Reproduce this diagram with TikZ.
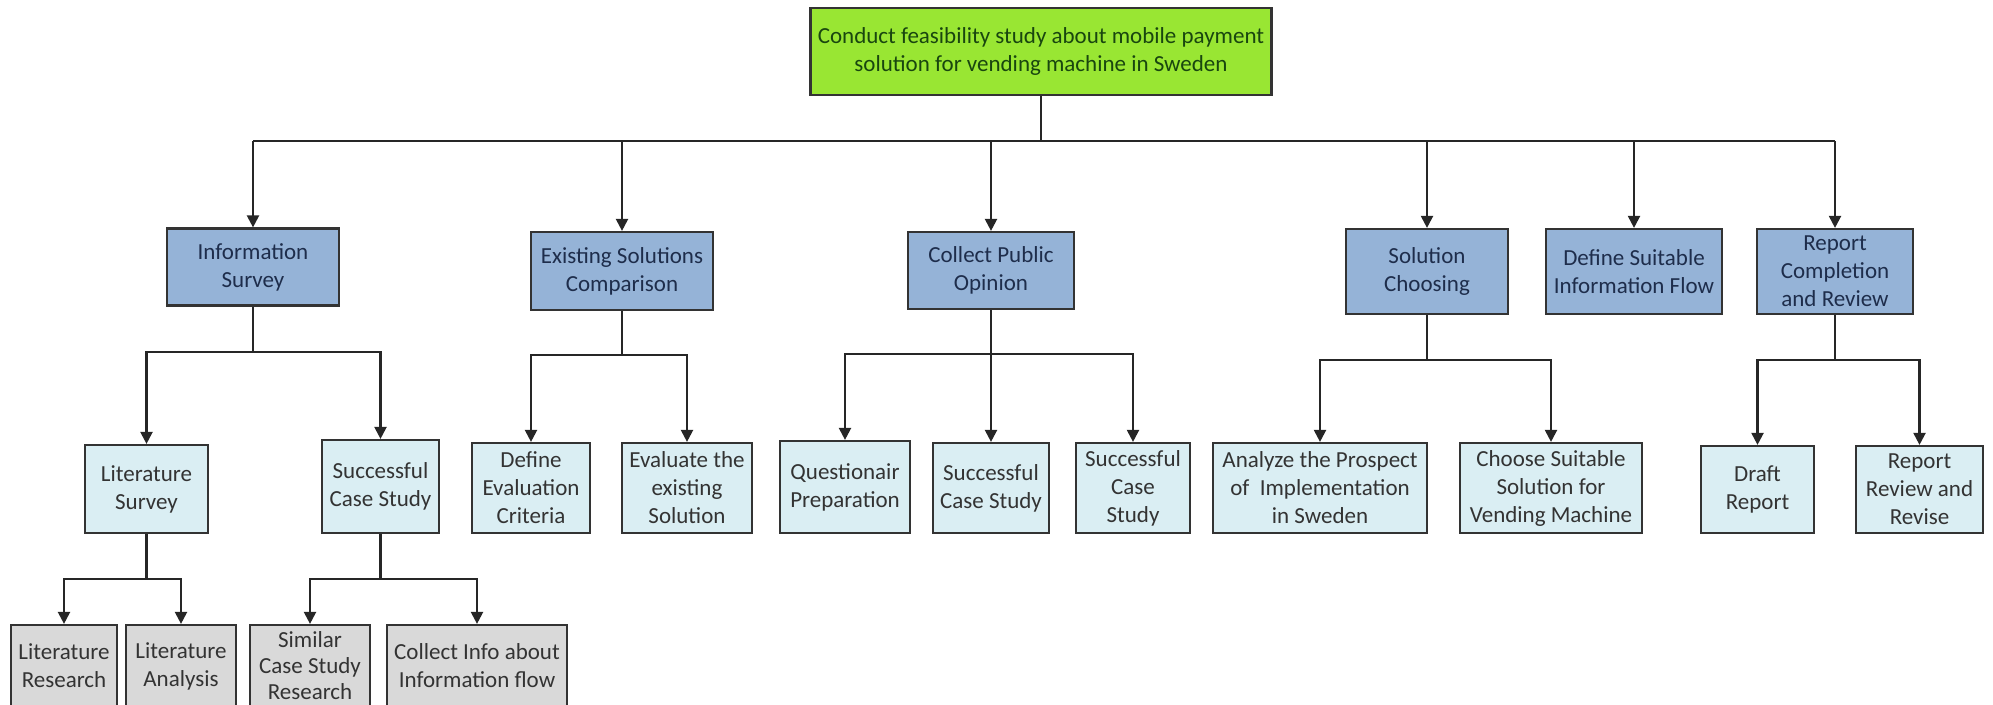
\documentclass[tikz,border=0pt]{standalone}
\usepackage{fontspec}
\setmainfont{Carlito}
\usetikzlibrary{arrows.meta}

\definecolor{goalgreen}{RGB}{153,230,51}
\definecolor{goaltext}{RGB}{25,70,15}
\definecolor{phaseblue}{RGB}{149,179,215}
\definecolor{phasetext}{RGB}{30,45,75}
\definecolor{taskblue}{RGB}{218,238,243}
\definecolor{subgray}{RGB}{217,217,217}

\tikzset{
    box/.style={draw=black!80, line width=2.2pt, align=center, inner sep=0pt,
        font=\fontsize{23}{28}\selectfont},
    goal/.style={box, fill=goalgreen, text=goaltext},
    phase/.style={box, fill=phaseblue, text=phasetext},
    task/.style={box, fill=taskblue, text=black!80},
    subtask/.style={box, fill=subgray, text=black!80},
    line/.style={draw=black!85, line width=2.2pt},
    arr/.style={line, -{Triangle[width=12pt,length=12pt]}}
}

\begin{document}
\begin{tikzpicture}[x=1pt,y=-1pt]
        \useasboundingbox (0,0) rectangle (1993,704);

        % goal
        \node[goal, minimum width=461, minimum height=87] (goal) at (1041,51.5)
            {Conduct feasibility study about mobile payment\\solution for vending machine in Sweden};

        % phases
        \node[phase, minimum width=172, minimum height=77] (info) at (253,267) {Information\\Survey};
        \node[phase, minimum width=182, minimum height=78] (exist) at (622,271) {Existing Solutions\\Comparison};
        \node[phase, minimum width=166, minimum height=77] (opinion) at (991,270.5) {Collect Public\\Opinion};
        \node[phase, minimum width=162, minimum height=85] (choose) at (1427,271.5) {Solution\\Choosing};
        \node[phase, minimum width=176, minimum height=85] (flow) at (1634,271.5) {Define Suitable\\Information Flow};
        \node[phase, minimum width=156, minimum height=85] (report) at (1835,271.5) {Report\\Completion\\and Review};

        % tasks
        \node[task, minimum width=123, minimum height=88] (litsurvey) at (146.5,489) {Literature\\Survey};
        \node[task, minimum width=117, minimum height=93] (casestudy) at (380.5,486.5) {Successful\\Case Study};
        \node[task, minimum width=118, minimum height=90] (criteria) at (531,488) {Define\\Evaluation\\Criteria};
        \node[task, minimum width=130, minimum height=90] (evaluate) at (687,488) {Evaluate the\\existing\\Solution};
        \node[task, minimum width=130, minimum height=92] (question) at (845,487) {Questionair\\Preparation};
        \node[task, minimum width=116, minimum height=90] (casestudyb) at (991,488) {Successful\\Case Study};
        \node[task, minimum width=114, minimum height=90] (casestudyc) at (1133,488) {Successful\\Case\\Study};
        \node[task, minimum width=214, minimum height=90] (prospect) at (1320,488) {Analyze the Prospect\\of\ \ Implementation\\in Sweden};
        \node[task, minimum width=182, minimum height=90] (suitable) at (1551,488) {Choose Suitable\\Solution for\\Vending Machine};
        \node[task, minimum width=113, minimum height=87] (draft) at (1757.5,489.5) {Draft\\Report};
        \node[task, minimum width=127, minimum height=87] (revise) at (1919.5,489.5) {Report\\Review and\\Revise};

        % subtasks (cut off by the lower edge)
        \node[subtask, minimum width=106, minimum height=82] (litresearch) at (64,666) {Literature\\Research};
        \node[subtask, minimum width=110, minimum height=82] (litanalysis) at (181,666) {Literature\\Analysis};
        \node[subtask, minimum width=120, minimum height=82, font=\fontsize{23}{26}\selectfont] (similar) at (310,666) {Similar\\Case Study\\Research};
        \node[subtask, minimum width=180, minimum height=82] (collectinfo) at (477,666) {Collect Info about\\Information flow};

        % goal to phases
        \coordinate (bus) at (1041,141);
        \draw[line] (goal.south) -- (bus);
        \draw[line] (info.north |- bus) -- (report.north |- bus);
        \foreach \p in {info,exist,opinion,choose,flow,report}
            \draw[arr] (\p.north |- bus) -- (\p.north);

        % phases to tasks
        \coordinate (b1) at (253,352);
        \coordinate (b2) at (622,355);
        \coordinate (b3) at (991,354);
        \coordinate (b4) at (1427,360);
        \coordinate (b5) at (1835,360);
        \draw[line] (info.south) -- (b1);
        \draw[line] (exist.south) -- (b2);
        \draw[line] (opinion.south) -- (b3);
        \draw[line] (choose.south) -- (b4);
        \draw[line] (report.south) -- (b5);
        \draw[arr] (b1) -| (litsurvey.north);
        \draw[arr] (b1) -| (casestudy.north);
        \draw[arr] (b2) -| (criteria.north);
        \draw[arr] (b2) -| (evaluate.north);
        \draw[arr] (b3) -| (question.north);
        \draw[arr] (b3) -- (casestudyb.north);
        \draw[arr] (b3) -| (casestudyc.north);
        \draw[arr] (b4) -| (prospect.north);
        \draw[arr] (b4) -| (suitable.north);
        \draw[arr] (b5) -| (draft.north);
        \draw[arr] (b5) -| (revise.north);

        % tasks to subtasks
        \coordinate (c1) at (146.5,579);
        \coordinate (c2) at (380.5,579);
        \draw[line] (litsurvey.south) -- (c1);
        \draw[line] (casestudy.south) -- (c2);
        \draw[arr] (c1) -| (litresearch.north);
        \draw[arr] (c1) -| (litanalysis.north);
        \draw[arr] (c2) -| (similar.north);
        \draw[arr] (c2) -| (collectinfo.north);
\end{tikzpicture}
\end{document}
